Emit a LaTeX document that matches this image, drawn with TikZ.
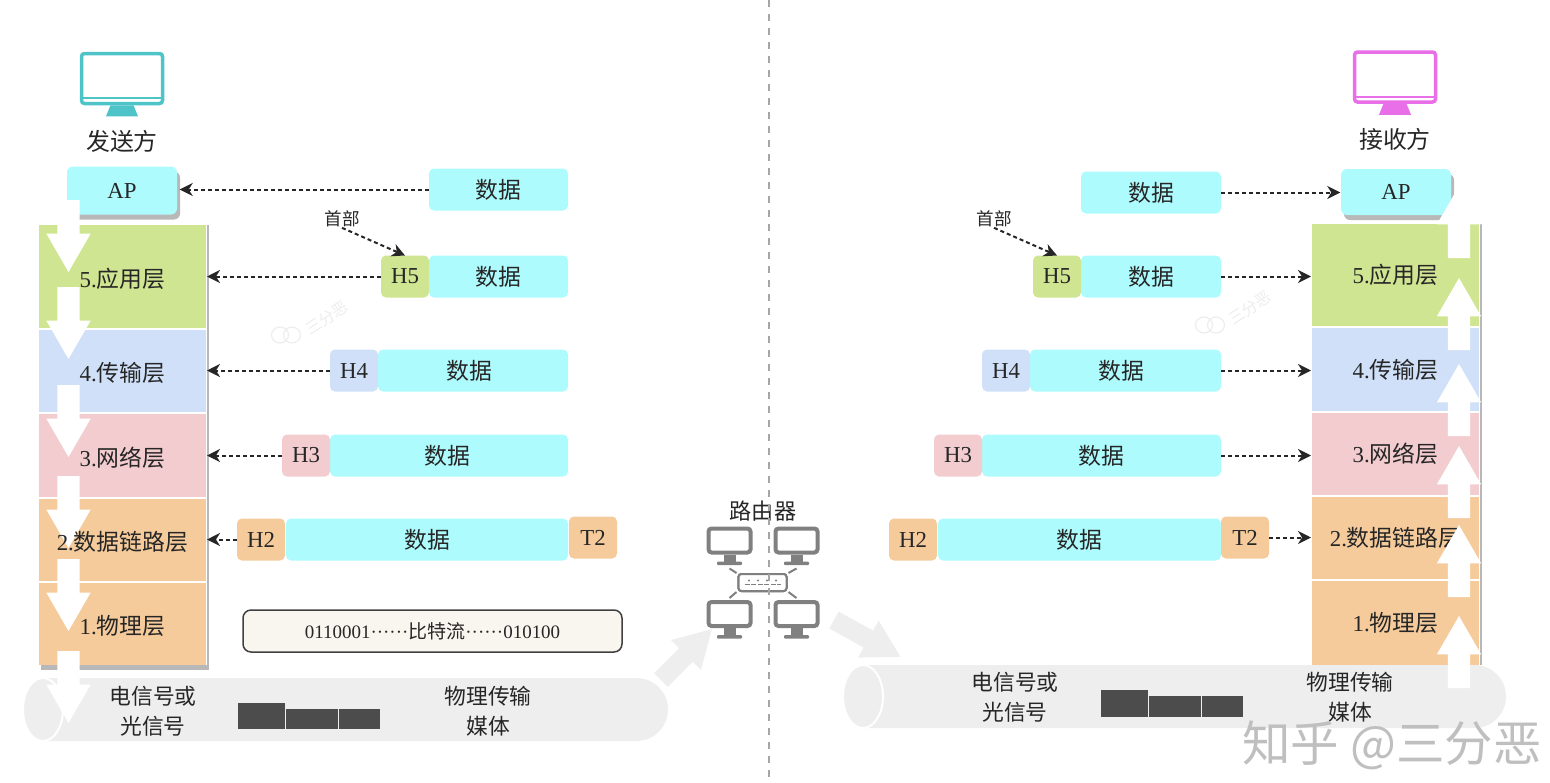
\documentclass[tikz,border=0pt]{standalone}
\usepackage{fontspec}
\setmainfont{Liberation Serif}
\newfontfamily\cjk{Noto Sans CJK SC}
\newcommand{\zh}[1]{{\cjk #1}}
\usepackage{tikz}
\usetikzlibrary{shapes.geometric, shapes.arrows, shapes.misc, arrows.meta, positioning, shadows, calc}
\definecolor{datacyan}{HTML}{AEFBFD}
\definecolor{appgreen}{HTML}{D0E592}
\definecolor{transblue}{HTML}{CFE0F8}
\definecolor{netpink}{HTML}{F3CCD0}
\definecolor{linkorange}{HTML}{F5CB9C}
\definecolor{cablegrey}{HTML}{EEEEEE}
\definecolor{sendteal}{HTML}{4FC4C8}
\definecolor{recvpink}{HTML}{E86FE8}
\definecolor{routergrey}{HTML}{808080}
\definecolor{bitscream}{HTML}{F9F6F0}
\tikzset{
  layerbox/.style={rectangle, minimum width=1.67cm, inner sep=0pt, outer sep=0pt, align=center},
  pkt/.style={rectangle, rounded corners=0.05cm, minimum height=0.42cm, inner sep=0pt, outer sep=0pt, align=center},
  databox/.style={pkt, fill=datacyan, minimum width=#1},
  headbox/.style={pkt, minimum width=0.48cm, fill=#1},
  apbox/.style={rectangle, rounded corners=0.06cm, fill=datacyan, minimum width=1.10cm, minimum height=0.48cm, inner sep=0pt, copy shadow={shadow xshift=0.03cm, shadow yshift=-0.05cm, fill=black!28, draw=none}},
  arrow/.style={-{Stealth[length=1.3mm, width=1.3mm, inset=0.4mm]}, dash pattern=on 0.04cm off 0.03cm, line width=0.02cm, black!85},
  cable/.style={rounded rectangle, rounded rectangle left arc=none, fill=cablegrey, minimum height=0.63cm, inner sep=0pt, outer sep=0pt},
  cableend/.style={ellipse, draw=white, line width=0.02cm, fill=cablegrey, minimum width=0.40cm, minimum height=0.63cm, inner sep=0pt},
  flow/.style={single arrow, fill=#1, draw=none, single arrow head extend=0.11cm, single arrow tip angle=60, inner xsep=0pt, inner ysep=0.105cm, outer sep=0pt, anchor=tail},
  bigflow/.style={single arrow, fill=cablegrey, draw=none, single arrow head extend=0.115cm, single arrow tip angle=60, inner xsep=0pt, inner ysep=0.09cm, outer sep=0pt, anchor=tail},
  screen/.style={rectangle, rounded corners=0.03cm, draw=#1, fill=white, line width=0.035cm, minimum width=0.81cm, minimum height=0.50cm, inner sep=0pt},
  miniscreen/.style={rectangle, rounded corners=0.03cm, draw=routergrey, fill=white, line width=0.04cm, minimum width=0.42cm, minimum height=0.24cm, inner sep=0pt},
  signal/.style={rectangle, fill=black!70, inner sep=0pt, outer sep=0pt, minimum height=#1},
  wmark/.style={text=black!7, rotate=33, inner sep=0pt, font=\fontsize{4.5}{5}\selectfont\cjk},
  wicon/.style={ellipse, draw=black!7, line width=0.012cm, minimum width=0.17cm, minimum height=0.16cm, inner sep=0pt},
}
\newcommand{\standfor}[5]{\fill[#2] ([xshift=-#3]#1.south) -- ([xshift=#3]#1.south) -- ([xshift=#4,yshift=-#5]#1.south) -- ([xshift=-#4,yshift=-#5]#1.south) -- cycle;}
\newcommand{\ministand}[1]{\fill[routergrey] ([xshift=-0.06cm]#1.south) rectangle ([xshift=0.06cm,yshift=-0.08cm]#1.south);
  \fill[routergrey, rounded corners=0.01cm] ([xshift=-0.125cm,yshift=-0.07cm]#1.south) rectangle ([xshift=0.125cm,yshift=-0.105cm]#1.south);}
\begin{document}
\begin{tikzpicture}[font=\fontsize{6.5}{8}\selectfont, text=black!85]
\useasboundingbox (0,0) rectangle (15.5,-7.82);
\node[cable, minimum width=6.25cm] (lcable) at (3.555,-7.095) {};
\node[cableend] (lcableend) at (0.43,-7.095) {};
\node[cable, minimum width=6.43cm] (rcable) at (11.845,-6.965) {};
\node[cableend] (rcableend) at (8.63,-6.965) {};
\node[bigflow, minimum height=0.72cm, rotate=45] (lflow) at (6.61,-6.80) {};
\node[bigflow, minimum height=0.76cm, rotate=-29] (rflow) at (8.34,-6.20) {};

\node[layerbox, fill=appgreen, minimum height=1.03cm] (lapp) at (1.225,-2.765) {};
\node[layerbox, fill=transblue, minimum height=0.82cm, below=0.02cm of lapp] (ltrans) {};
\node[layerbox, fill=netpink, minimum height=0.83cm, below=0.02cm of ltrans] (lnet) {};
\node[layerbox, fill=linkorange, minimum height=0.82cm, below=0.02cm of lnet] (llink) {};
\node[layerbox, fill=linkorange, minimum height=0.82cm, below=0.02cm of llink] (lphy) {};
\draw[black!28, line width=0.02cm] ([xshift=0.02cm]lapp.north east) -- ([xshift=0.02cm]lphy.south east);
\draw[black!28, line width=0.05cm] ([xshift=0.02cm,yshift=-0.025cm]lphy.south west) -- ([xshift=0.03cm,yshift=-0.025cm]lphy.south east);
\node[apbox] (lap) at (1.22,-1.905) {AP};

\node[layerbox, fill=appgreen, minimum height=1.02cm] (rapp) at (13.955,-2.75) {5.\zh{应用层}};
\node[layerbox, fill=transblue, minimum height=0.83cm, below=0.02cm of rapp] (rtrans) {4.\zh{传输层}};
\node[layerbox, fill=netpink, minimum height=0.82cm, below=0.02cm of rtrans] (rnet) {3.\zh{网络层}};
\node[layerbox, fill=linkorange, minimum height=0.82cm, below=0.02cm of rnet] (rlink) {2.\zh{数据链路层}};
\node[layerbox, fill=linkorange, minimum height=0.84cm, below=0.02cm of rlink] (rphy) {1.\zh{物理层}};
\draw[black!28, line width=0.02cm] ([xshift=0.02cm]rapp.north east) -- ([xshift=0.02cm]rphy.south east);
\node[apbox, minimum height=0.46cm] (rap) at (13.96,-1.92) {AP};

\foreach \i/\ya in {1/2.00, 2/2.87, 3/3.85, 4/4.76, 5/5.59, 6/6.51}
  \node[flow=white, minimum height=0.72cm, rotate=-90] (down\i) at (0.685,-\ya) {};
\foreach \i/\ya in {1/2.58, 2/3.50, 3/4.36, 4/5.18, 5/5.97, 6/6.88}
  \node[flow=white, minimum height=0.72cm, rotate=90] (up\i) at (14.59,-\ya) {};

\node at ([yshift=-0.02cm]lapp) {5.\zh{应用层}};
\node at ([yshift=-0.02cm]ltrans) {4.\zh{传输层}};
\node at ([yshift=-0.02cm]lnet) {3.\zh{网络层}};
\node at ([yshift=-0.02cm]llink) {2.\zh{数据链路层}};
\node at ([yshift=-0.02cm]lphy) {1.\zh{物理层}};

\node[screen=sendteal] (lscreen) at (1.22,-0.785) {};
\draw[sendteal, line width=0.02cm] ([yshift=0.07cm]lscreen.south west) -- ([yshift=0.07cm]lscreen.south east);
\standfor{lscreen}{sendteal}{0.115cm}{0.16cm}{0.11cm}
\node[font=\fontsize{6.8}{8}\selectfont\cjk] (lname) at (1.22,-1.41) {发送方};
\node[screen=recvpink] (rscreen) at (13.95,-0.77) {};
\draw[recvpink, line width=0.02cm] ([yshift=0.07cm]rscreen.south west) -- ([yshift=0.07cm]rscreen.south east);
\standfor{rscreen}{recvpink}{0.115cm}{0.16cm}{0.11cm}
\node[font=\fontsize{6.8}{8}\selectfont\cjk] (rname) at (13.95,-1.39) {接收方};

\node[databox=1.39cm] (ld0) at (4.985,-1.895) {\zh{数据}};
\node[databox=1.39cm] (ld5) at (4.985,-2.765) {\zh{数据}};
\node[headbox=appgreen, left=0cm of ld5] (lh5) {H5};
\node[databox=1.90cm] (ld4) at (4.73,-3.705) {\zh{数据}\hspace{0.08cm}};
\node[headbox=transblue, left=0cm of ld4] (lh4) {H4};
\node[databox=2.38cm] (ld3) at (4.49,-4.555) {\zh{数据}\hspace{0.04cm}};
\node[headbox=netpink, left=0cm of ld3] (lh3) {H3};
\node[databox=2.82cm] (ld2) at (4.27,-5.395) {\zh{数据}};
\node[headbox=linkorange, left=0.01cm of ld2] (lh2) {H2};
\node[headbox=linkorange, right=0.01cm of ld2, yshift=0.02cm] (lt2) {T2};
\node[inner sep=0pt, font=\fontsize{5}{6}\selectfont\cjk] (lhead) at (3.42,-2.19) {首部};

\node[databox=1.40cm] (rd0) at (11.51,-1.925) {\zh{数据}};
\node[databox=1.40cm] (rd5) at (11.51,-2.765) {\zh{数据}};
\node[headbox=appgreen, left=0cm of rd5] (rh5) {H5};
\node[databox=1.91cm] (rd4) at (11.255,-3.705) {\zh{数据}\hspace{0.08cm}};
\node[headbox=transblue, left=0cm of rd4] (rh4) {H4};
\node[databox=2.39cm] (rd3) at (11.015,-4.555) {\zh{数据}};
\node[headbox=netpink, left=0cm of rd3] (rh3) {H3};
\node[databox=2.83cm] (rd2) at (10.795,-5.395) {\zh{数据}};
\node[headbox=linkorange, left=0.01cm of rd2] (rh2) {H2};
\node[headbox=linkorange, right=0cm of rd2, yshift=0.02cm] (rt2) {T2};
\node[inner sep=0pt, font=\fontsize{5}{6}\selectfont\cjk] (rhead) at (9.94,-2.19) {首部};

\draw[arrow] (ld0.west) -- ([xshift=0.02cm]lap.east |- ld0.west);
\draw[arrow] (lh5.west) -- ([xshift=0.01cm]lapp.east |- lh5.west);
\draw[arrow] (lh4.west) -- ([xshift=0.01cm]ltrans.east |- lh4.west);
\draw[arrow] (lh3.west) -- ([xshift=0.01cm]lnet.east |- lh3.west);
\draw[arrow] (lh2.west) -- ([xshift=0.01cm]llink.east |- lh2.west);
\draw[arrow] (lhead.south) -- (lh5.north);
\draw[arrow] (rd0.east) -- (rap.west |- rd0.east);
\draw[arrow] (rd5.east) -- ([xshift=-0.01cm]rapp.west |- rd5.east);
\draw[arrow] (rd4.east) -- ([xshift=-0.01cm]rtrans.west |- rd4.east);
\draw[arrow] (rd3.east) -- ([xshift=-0.01cm]rnet.west |- rd3.east);
\draw[arrow] (rt2.east) -- ([xshift=-0.01cm]rlink.west |- rt2.east);
\draw[arrow] (rhead.south) -- (rh5.north);

\node[rectangle, rounded corners=0.08cm, draw=black!75, line width=0.015cm, fill=bitscream, minimum width=3.79cm, minimum height=0.42cm, font=\fontsize{5.4}{6}\selectfont] (bits) at (4.325,-6.31) {0110001······\zh{比特流}······010100};

\node[align=center, font=\fontsize{6.2}{8.5}\selectfont\cjk] (lsig) at (1.53,-7.11) {电信号或\\光信号};
\node[align=center, font=\fontsize{6.2}{8.5}\selectfont\cjk] (lmed) at (4.88,-7.11) {物理传输\\媒体};
\node[signal=0.26cm, minimum width=0.47cm] (ls1) at (2.615,-7.16) {};
\node[signal=0.20cm, minimum width=0.52cm] (ls2) at (3.12,-7.19) {};
\node[signal=0.20cm, minimum width=0.41cm] (ls3) at (3.595,-7.19) {};
\node[align=center, font=\fontsize{6.2}{8.5}\selectfont\cjk] (rsig) at (10.15,-6.97) {电信号或\\光信号};
\node[align=center, font=\fontsize{6.2}{8.5}\selectfont\cjk] (rmed) at (13.50,-6.97) {物理传输\\媒体};
\node[signal=0.27cm, minimum width=0.47cm] (rs1) at (11.245,-7.035) {};
\node[signal=0.21cm, minimum width=0.52cm] (rs2) at (11.75,-7.065) {};
\node[signal=0.21cm, minimum width=0.41cm] (rs3) at (12.225,-7.065) {};

\node[miniscreen] (m1) at (7.295,-5.405) {};
\node[miniscreen] (m2) at (7.965,-5.405) {};
\node[miniscreen] (m3) at (7.295,-6.14) {};
\node[miniscreen] (m4) at (7.965,-6.14) {};
\foreach \m in {m1,m2,m3,m4}
  \ministand{\m}
\node[rectangle, rounded corners=0.03cm, draw=routergrey, line width=0.02cm, fill=white, minimum width=0.48cm, minimum height=0.17cm, inner sep=0pt] (router) at (7.625,-5.825) {};
\draw[routergrey, line width=0.012cm, dash pattern=on 0.05cm off 0.015cm] ([xshift=-0.18cm,yshift=-0.02cm]router.center) -- ([xshift=0.18cm,yshift=-0.02cm]router.center);
\foreach \dx in {-0.135,-0.045,0.045,0.135}
  \fill[routergrey] ([xshift=\dx cm,yshift=0.02cm]router.center) circle (0.012cm);
\draw[routergrey, line width=0.02cm] ([shift={(-0.01,0)}]router.north west) -- ([shift={(-0.23,-0.14)}]m1.south east);
\draw[routergrey, line width=0.02cm] ([shift={(0.01,0)}]router.north east) -- ([shift={(0.23,-0.14)}]m2.south west);
\draw[routergrey, line width=0.02cm] ([shift={(-0.01,0)}]router.south west) -- ([shift={(-0.23,0.02)}]m3.north east);
\draw[routergrey, line width=0.02cm] ([shift={(0.01,0)}]router.south east) -- ([shift={(0.23,0.02)}]m4.north west);
\node[font=\fontsize{6.3}{8}\selectfont\cjk] (routername) at (7.63,-5.11) {路由器};

\coordinate (divtop) at (7.69,0);
\coordinate (divbot) at (7.69,-7.82);
\draw[black!35, line width=0.02cm, dash pattern=on 0.07cm off 0.07cm] (divtop) -- (divbot);

\node[wmark] (lmark) at (3.27,-3.18) {三分恶};
\node[wicon] (licona) at (2.80,-3.35) {};
\node[wicon] (liconb) at (2.92,-3.35) {};
\node[wmark] (rmark) at (12.50,-3.08) {三分恶};
\node[wicon] (ricona) at (12.04,-3.25) {};
\node[wicon] (riconb) at (12.16,-3.25) {};
\node[text=black!25, anchor=east, font=\fontsize{13.8}{15}\selectfont\cjk] (zhihu) at (15.54,-7.45) {知乎 @三分恶};
\end{tikzpicture}
\end{document}
